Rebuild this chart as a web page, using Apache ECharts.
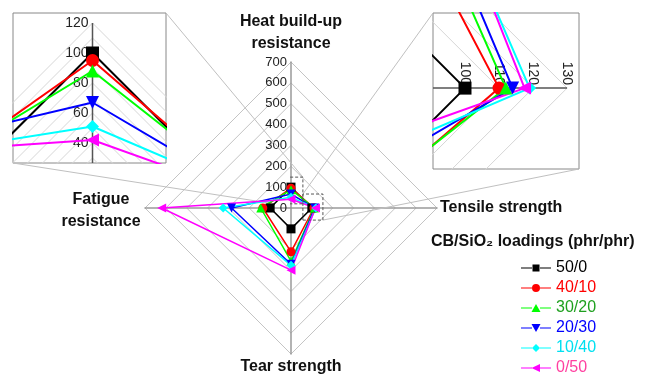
<!DOCTYPE html>
<html><head><meta charset="utf-8">
<script src="https://cdn.jsdelivr.net/npm/echarts@6/dist/echarts.min.js"></script>
<style>html,body{margin:0;padding:0;background:#fff}#c{width:651px;height:376px}</style>
</head><body><div id="c"></div>
<script>
// ---------- data ----------
const groups   = ['50/0', '40/10', '30/20', '20/30', '10/40', '0/50'];
const heat     = [100, 95, 88, 67, 51, 42];          // Heat build-up resistance
const tensile  = [100, 110, 112, 114, 119, 117.5];   // Tensile strength
const tear     = [100, 210, 255, 270, 275, 298];     // Tear strength
const fatigue  = [100, 135, 145, 285, 325, 620];     // Fatigue resistance
const mainTicks = [0, 100, 200, 300, 400, 500, 600, 700];
const heatInsetTicks = [40, 60, 80, 100, 120];
const tensileInsetTicks = [100, 110, 120, 130];
const insetRingsL = [10,20,30,40,50,60,70,80,90,100,110,120];
const insetRingsR = [10,20,30,40,50,60,70,80,90,100,110,120,130];

// ---------- styles / layout ----------
const FONT = '"Liberation Sans", Arial, Helvetica, sans-serif';
const lineColors = ['#000000', '#ff0000', '#00ff00', '#0000ff', '#00ffff', '#ff00ff'];
const textColors = ['#000000', '#ff0000', '#1fa01f', '#0000ff', '#00e0f0', '#ff40a0'];
const symbols = ['rect', 'circle', 'triangle', 'triangle', 'diamond', 'triangle'];
const rotations = [0, 0, 0, 180, 0, 90];
const legendIcons = [
  'path://M0,3.4H11V4.6H0Z M19,3.4H30V4.6H19Z M11.5,0.5H18.5V7.5H11.5Z',
  'path://M0,3.4H11V4.6H0Z M19,3.4H30V4.6H19Z M11,4A4,4 0 1,1 19,4A4,4 0 1,1 11,4Z',
  'path://M0,3.4H11V4.6H0Z M19,3.4H30V4.6H19Z M15,0L19.5,8H10.5Z',
  'path://M0,3.4H11V4.6H0Z M19,3.4H30V4.6H19Z M10.5,0H19.5L15,8Z',
  'path://M0,3.4H11V4.6H0Z M19,3.4H30V4.6H19Z M15,0L19,4L15,8L11,4Z',
  'path://M0,3.4H11V4.6H0Z M19,3.4H30V4.6H19Z M10.5,4L19,0V8Z'
];
const MAIN = {cx: 291, cy: 208, r: 146};
const INSET_L = {left: 13, top: 13, width: 153, height: 150, xMin: -53, xMax: 49, yMin: 26.67, yMax: 126.67};
const INSET_R = {left: 433, top: 13, width: 146, height: 156, xMin: 90.6, xMax: 133.5, yMin: -22.1, yMax: 23.8};
const BOX_TOP = {x: [-80, 57], y: [20, 148]};
const BOX_RIGHT = {x: [57, 153], y: [-58, 67]};
// pixel of the zero lines inside the insets (where their axes sit)
const L_ZERO_X = INSET_L.left + (0 - INSET_L.xMin) / (INSET_L.xMax - INSET_L.xMin) * INSET_L.width;
const R_ZERO_Y = INSET_R.top + (0 - INSET_R.yMin) / (INSET_R.yMax - INSET_R.yMin) * INSET_R.height; // y axis inverted

const chart = echarts.init(document.getElementById('c'), null, {renderer: 'canvas'});

const hiddenAxis = (gi, mn, mx, extra) => Object.assign({
  gridIndex: gi, type: 'value', min: mn, max: mx,
  axisLine: {show: false}, axisTick: {show: false}, axisLabel: {show: false}, splitLine: {show: false}
}, extra || {});

const series = [];
// main radar series
groups.forEach((g, i) => {
  series.push({
    type: 'radar', name: g, radarIndex: 0, z: 4,
    symbol: symbols[i], symbolRotate: rotations[i], symbolSize: 9,
    lineStyle: {color: lineColors[i], width: 1.5},
    itemStyle: {color: lineColors[i]},
    data: [{name: g, value: [heat[i], fatigue[i], tear[i], tensile[i]]}]
  });
});
// inset rings
[[1, insetRingsL], [2, insetRingsR]].forEach(([gi, rings]) => {
  rings.forEach(r => {
    series.push({
      type: 'line', xAxisIndex: gi, yAxisIndex: gi, symbol: 'none', silent: true, z: 1,
      lineStyle: {color: '#d6d6d6', width: 1}, clip: true,
      data: [[r, 0], [0, r], [-r, 0], [0, -r], [r, 0]]
    });
  });
});
// inset axis lines
series.push({type: 'line', xAxisIndex: 1, yAxisIndex: 1, symbol: 'none', silent: true, z: 2, clip: true,
  lineStyle: {color: '#555', width: 1.5}, data: [[0, INSET_L.yMin], [0, heatInsetTicks[heatInsetTicks.length - 1]]]});
series.push({type: 'line', xAxisIndex: 2, yAxisIndex: 2, symbol: 'none', silent: true, z: 2, clip: true,
  lineStyle: {color: '#555', width: 1.5}, data: [[INSET_R.xMin, 0], [tensileInsetTicks[tensileInsetTicks.length - 1], 0]]});
// inset data
groups.forEach((g, i) => {
  series.push({
    type: 'line', xAxisIndex: 1, yAxisIndex: 1, z: 3, clip: true,
    symbol: symbols[i], symbolRotate: rotations[i], symbolSize: 13,
    lineStyle: {color: lineColors[i], width: 2}, itemStyle: {color: lineColors[i]},
    data: [{value: [-fatigue[i], 0], symbol: 'none'}, {value: [0, heat[i]]}, {value: [tensile[i], 0], symbol: 'none'}]
  });
  series.push({
    type: 'line', xAxisIndex: 2, yAxisIndex: 2, z: 3, clip: true,
    symbol: symbols[i], symbolRotate: rotations[i], symbolSize: 13,
    lineStyle: {color: lineColors[i], width: 2}, itemStyle: {color: lineColors[i]},
    data: [{value: [0, heat[i]], symbol: 'none'}, {value: [tensile[i], 0]}, {value: [0, -tear[i]], symbol: 'none'}]
  });
});
// dashed zoom boxes on main chart
[BOX_TOP, BOX_RIGHT].forEach(b => {
  series.push({type: 'line', xAxisIndex: 0, yAxisIndex: 0, symbol: 'none', silent: true, z: 5, clip: false,
    lineStyle: {color: '#555', width: 1, type: [3, 2]},
    data: [[b.x[0], b.y[0]], [b.x[1], b.y[0]], [b.x[1], b.y[1]], [b.x[0], b.y[1]], [b.x[0], b.y[0]]]});
});

const nameStyle = {fontFamily: FONT, fontSize: 16, fontWeight: 'bold', fill: '#111', lineHeight: 22};
const texts = [
  {type: 'text', id: 't1', x: MAIN.cx, y: 33, style: Object.assign({text: 'Heat build-up\nresistance', textAlign: 'center', textVerticalAlign: 'middle'}, nameStyle)},
  {type: 'text', id: 't2', x: MAIN.cx + MAIN.r + 3, y: MAIN.cy, style: Object.assign({text: 'Tensile strength', textAlign: 'left', textVerticalAlign: 'middle'}, nameStyle)},
  {type: 'text', id: 't3', x: MAIN.cx, y: 367, style: Object.assign({text: 'Tear strength', textAlign: 'center', textVerticalAlign: 'middle'}, nameStyle)},
  {type: 'text', id: 't4', x: 101, y: 211, style: Object.assign({text: 'Fatigue\nresistance', textAlign: 'center', textVerticalAlign: 'middle'}, nameStyle)}
];

const labelAxis = {axisTick: {show: false}, splitLine: {show: false}, axisLine: {show: false}};

const option = {
  animation: false,
  backgroundColor: '#fff',
  textStyle: {fontFamily: FONT},
  title: {
    text: 'CB/SiO\u2082 loadings (phr/phr)', left: 431, top: 234, padding: 0,
    textStyle: {fontFamily: FONT, fontSize: 16, fontWeight: 'bold', color: '#111'}
  },
  legend: {
    orient: 'vertical', left: 521, top: 260, itemWidth: 30, itemHeight: 8, itemGap: 4, padding: 0,
    textStyle: {fontFamily: FONT, fontSize: 16},
    data: groups.map((g, i) => ({name: g, icon: legendIcons[i], textStyle: {color: textColors[i]}}))
  },
  radar: {
    center: [MAIN.cx, MAIN.cy], radius: MAIN.r, startAngle: 90, shape: 'polygon', splitNumber: 7,
    indicator: [
      {name: 'Heat build-up resistance', min: 0, max: 700},
      {name: 'Fatigue resistance', min: 0, max: 700},
      {name: 'Tear strength', min: 0, max: 700},
      {name: 'Tensile strength', min: 0, max: 700}
    ],
    axisName: {show: false},
    axisLine: {lineStyle: {color: '#9a9a9a', width: 1.5}},
    splitLine: {lineStyle: {color: '#c4c4c4', width: 1}},
    splitArea: {show: false},
    axisTick: {show: false}, axisLabel: {show: false}
  },
  grid: [
    // 0: main chart overlay, left edge on the centre so the value labels sit on the vertical spoke
    {left: MAIN.cx, top: MAIN.cy - MAIN.r, width: MAIN.r, height: 2 * MAIN.r, show: false},
    // 1: left inset (heat build-up zoom)
    {left: INSET_L.left, top: INSET_L.top, width: INSET_L.width, height: INSET_L.height, show: true, borderColor: '#888', borderWidth: 1, backgroundColor: '#fff', z: 0},
    // 2: right inset (tensile zoom)
    {left: INSET_R.left, top: INSET_R.top, width: INSET_R.width, height: INSET_R.height, show: true, borderColor: '#888', borderWidth: 1, backgroundColor: '#fff', z: 0},
    // 3: label carrier for left inset axis
    {left: L_ZERO_X, top: INSET_L.top, width: INSET_L.left + INSET_L.width - L_ZERO_X, height: INSET_L.height, show: false},
    // 4: label carrier for right inset axis
    {left: INSET_R.left, top: INSET_R.top, width: INSET_R.width, height: R_ZERO_Y - INSET_R.top, show: false}
  ],
  xAxis: [
    hiddenAxis(0, 0, 700),
    hiddenAxis(1, INSET_L.xMin, INSET_L.xMax),
    hiddenAxis(2, INSET_R.xMin, INSET_R.xMax),
    hiddenAxis(3, 0, 1),
    Object.assign({gridIndex: 4, type: 'value', position: 'bottom', min: INSET_R.xMin, max: INSET_R.xMax,
      axisLabel: {customValues: tensileInsetTicks, inside: true, rotate: -90, margin: 3, fontSize: 14, color: '#222', fontFamily: FONT}}, labelAxis)
  ],
  yAxis: [
    Object.assign({gridIndex: 0, type: 'value', position: 'left', min: -700, max: 700,
      axisLabel: {customValues: mainTicks, margin: 4, fontSize: 13, color: '#222', fontFamily: FONT}}, labelAxis),
    hiddenAxis(1, INSET_L.yMin, INSET_L.yMax),
    hiddenAxis(2, INSET_R.yMin, INSET_R.yMax, {inverse: true}),
    Object.assign({gridIndex: 3, type: 'value', position: 'left', min: INSET_L.yMin, max: INSET_L.yMax,
      axisLabel: {customValues: heatInsetTicks, margin: 4, fontSize: 14, color: '#222', fontFamily: FONT}}, labelAxis),
    hiddenAxis(4, 0, 1)
  ],
  graphic: texts,
  series: series
};
chart.setOption(option);

// connector lines from dashed boxes to insets
const px = pt => chart.convertToPixel({gridIndex: 0}, pt);
const lineEl = (id, a, b) => ({type: 'line', id: id, silent: true, z: 1,
  shape: {x1: a[0], y1: a[1], x2: b[0], y2: b[1]}, style: {stroke: '#c0c0c0', lineWidth: 1}});
chart.setOption({graphic: texts.concat([
  lineEl('c1', px([BOX_TOP.x[1], BOX_TOP.y[1]]), [INSET_L.left + INSET_L.width, INSET_L.top]),
  lineEl('c2', px([BOX_TOP.x[0], BOX_TOP.y[0]]), [INSET_L.left, INSET_L.top + INSET_L.height]),
  lineEl('c3', px([BOX_RIGHT.x[0], BOX_RIGHT.y[1]]), [INSET_R.left, INSET_R.top]),
  lineEl('c4', px([BOX_RIGHT.x[1], BOX_RIGHT.y[0]]), [INSET_R.left + INSET_R.width, INSET_R.top + INSET_R.height])
])});
</script></body></html>
